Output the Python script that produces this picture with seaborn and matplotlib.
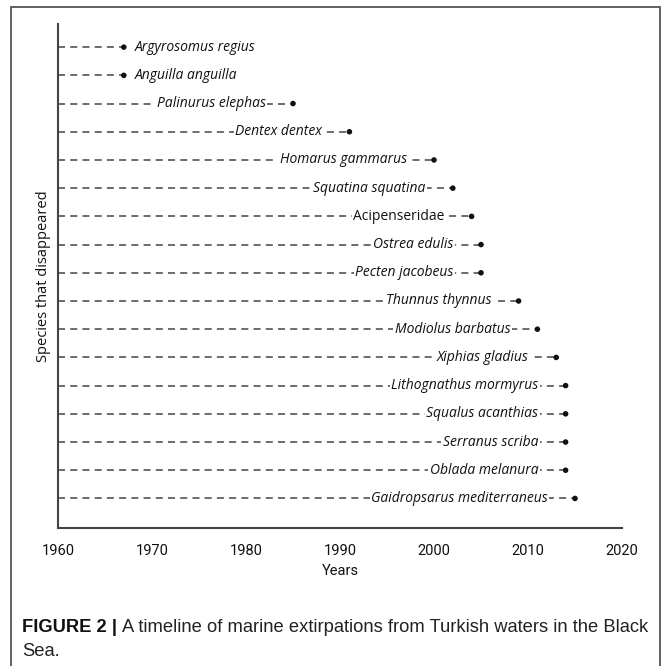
import matplotlib
matplotlib.use("Agg")
import matplotlib.pyplot as plt
import seaborn as sns
import pandas as pd
import numpy as np
from matplotlib.patches import Rectangle

# ---- data ----
species = [
    "Argyrosomus regius", "Anguilla anguilla", "Palinurus elephas", "Dentex dentex",
    "Homarus gammarus", "Squatina squatina", "Acipenseridae", "Ostrea edulis",
    "Pecten jacobeus", "Thunnus thynnus", "Modiolus barbatus", "Xiphias gladius",
    "Lithognathus mormyrus", "Squalus acanthias", "Serranus scriba",
    "Oblada melanura", "Gaidropsarus mediterraneus",
]
years = [1967, 1967, 1985, 1991, 2000, 2002, 2004, 2005, 2005, 2009, 2011, 2013,
         2014, 2014, 2014, 2014, 2015]
italic_names = [True, True, True, True, True, True, False, True, True, True, True,
                True, True, True, True, True, True]
xticks = [1960, 1970, 1980, 1990, 2000, 2010, 2020]
xlabel = "Years"
ylabel = "Species that disappeared"
caption_bold = "FIGURE 2 | "
caption_line1 = "A timeline of marine extirpations from Turkish waters in the Black"
caption_line2 = "Sea."

sns.set_theme(style="white")
plt.rcParams['font.family'] = ['Open Sans', 'DejaVu Sans']

W, H = 670, 666
fig = plt.figure(figsize=(W / 100, H / 100), dpi=100)
fig.patch.set_facecolor("white")

# outer frame
fig.add_artist(Rectangle((11 / W, -0.01), (660 - 11) / W, 1 - 7 / H + 0.01,
                         transform=fig.transFigure, fill=False,
                         edgecolor="#555555", lw=1.3))

ax = fig.add_axes([58 / W, 1 - 527.5 / H, (622 - 58) / W, (527.5 - 24) / H])
ax.set_facecolor("white")

df = pd.DataFrame({"species": species, "year": years, "italic": italic_names})
df["row"] = np.arange(len(df))

ax.hlines(df["row"], 1960, df["year"], colors="#444444",
          linestyles=(0, (4.6, 3.4)), lw=1.1, zorder=1)
sns.scatterplot(data=df, x="year", y="row", color="#111111", s=16,
                edgecolor="none", ax=ax, zorder=3, legend=False)

for _, r in df.iterrows():
    style = "italic" if r["italic"] else "normal"
    if r["year"] < 1975:
        ax.text(r["year"] + 1.15, r["row"], r["species"], ha="left", va="center",
                fontsize=10, style=style, color="#111111", zorder=4)
    else:
        ax.text(r["year"] - 2.9, r["row"], r["species"], ha="right", va="center",
                fontsize=10, style=style, color="#111111", zorder=2,
                bbox=dict(facecolor="white", edgecolor="none", pad=1.0))

tick_font = ["Roboto", "DejaVu Sans"]
ax.set_xlim(1960, 2020)
ax.set_ylim(len(df) - 1 + 1.03, -0.82)
ax.set_xticks(xticks)
ax.set_xticklabels([str(t) for t in xticks], fontsize=10.5, family=tick_font,
                   color="#111111")
ax.set_yticks([])
ax.tick_params(axis="x", direction="in", length=4, width=1.3, color="#444444", pad=12)
for s in ["top", "right"]:
    ax.spines[s].set_visible(False)
for s in ["left", "bottom"]:
    ax.spines[s].set_color("#444444")
    ax.spines[s].set_linewidth(1.5)
ax.set_xlabel(xlabel, fontsize=10.5, color="#111111", labelpad=4, family=tick_font)
ax.set_ylabel(ylabel, fontsize=10.5, color="#111111", labelpad=5)

cap_font = ["Liberation Sans", "DejaVu Sans"]
cap_size = 13.2
t1 = fig.text(22 / W, 1 - 628 / H, caption_bold, fontsize=cap_size, weight="bold",
              family=cap_font, va="center", ha="left", color="#111111")
fig.canvas.draw()
bb = t1.get_window_extent()
fig.text(bb.x1 / W, 1 - 628 / H, caption_line1, fontsize=cap_size, family=cap_font,
         va="center", ha="left", color="#222222")
fig.text(22 / W, 1 - 652 / H, caption_line2, fontsize=cap_size, family=cap_font,
         va="center", ha="left", color="#222222")

fig.savefig("out.png", dpi=100, facecolor="white")
